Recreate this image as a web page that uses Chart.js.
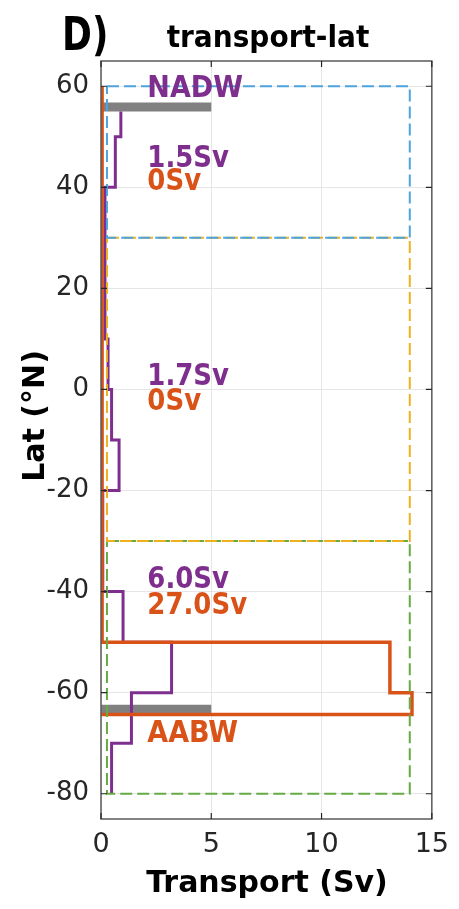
<!DOCTYPE html>
<html>
<head>
<meta charset="utf-8">
<script src="https://cdn.jsdelivr.net/npm/chart.js@4.4.0/dist/chart.umd.min.js"></script>
<style>
    body { margin: 0; background: #fff; }
    #wrap { width: 459px; height: 909px; position: relative; }
</style>
</head>
<body>
<div id="wrap"><canvas id="transportChart"></canvas></div>
<script>
// Tick labels
const xTicks = [0, 5, 10, 15];
const yTicks = [-80, -60, -40, -20, 0, 20, 40, 60];

// Purple profile: latitude edges (top to bottom) and transport in each band (Sv)
const purpleLatEdges = [55, 50, 40, 10, 0, -10, -20, -40, -50, -60, -70, -80];
const purpleValues = [0.9, 0.65, 0.18, 0.32, 0.48, 0.82, 0.08, 1.0, 3.2, 1.38, 0.48];

// Orange profile
const orangeLatEdges = [60, -50, -60, -64.3];
const orangeValues = [0.05, 13.1, 14.1];

// Dashed region boxes (blue, yellow, green)
const boxTops = [60, 30, -30];
const boxBottoms = [30, -30, -80];
const boxLeft = 0.27;
const boxRight = 14;

// Gray bars (NADW / AABW)
const barLats = [55.9, -63.3];
const barLength = 5;

// Labels inside the plot
const labelTexts = ['NADW', '1.5Sv', '0Sv', '1.7Sv', '0Sv', '6.0Sv', '27.0Sv', 'AABW'];
const labelLats = [59.5, 45.5, 41, 2.4, -2.6, -37.7, -42.9, -68.2];

const purple = '#7E2F8E';
const orange = '#D95319';
const boxColors = ['#4DA3DB', '#EDB120', '#66AA44'];
const labelColors = [purple, purple, orange, purple, orange, purple, orange, orange];

function stepPoints(edges, values, closeToZero) {
    const pts = [];
    for (let i = 0; i < values.length; i++) {
        pts.push({ x: values[i], y: edges[i] });
        pts.push({ x: values[i], y: edges[i + 1] });
    }
    if (closeToZero) pts.push({ x: 0, y: edges[edges.length - 1] });
    return pts;
}

const datasets = [];

boxTops.forEach((top, i) => {
    datasets.push({
        data: [
            { x: boxLeft, y: top }, { x: boxRight, y: top },
            { x: boxRight, y: boxBottoms[i] }, { x: boxLeft, y: boxBottoms[i] },
            { x: boxLeft, y: top }
        ],
        borderColor: boxColors[i],
        borderWidth: 2,
        borderDash: [12, 5]
    });
});

datasets.push({
    data: stepPoints(orangeLatEdges, orangeValues, true),
    borderColor: orange,
    borderWidth: 3.5
});

datasets.push({
    data: stepPoints(purpleLatEdges, purpleValues, false),
    borderColor: purple,
    borderWidth: 3
});

barLats.forEach(lat => {
    datasets.push({
        data: [{ x: 0, y: lat }, { x: barLength, y: lat }],
        borderColor: '#808080',
        borderWidth: 9,
        borderCapStyle: 'butt'
    });
});

datasets.forEach(d => {
    d.showLine = true;
    d.pointRadius = 0;
    d.fill = false;
    d.tension = 0;
});

// text drawn slightly taller than wide, as in the source figure
function tallText(ctx, text, x, y, sy) {
    ctx.save();
    ctx.translate(x, y);
    ctx.scale(1, sy);
    ctx.fillText(text, 0, 0);
    ctx.restore();
}

// Draws text, box and inward ticks like the MATLAB figure
const decorPlugin = {
    id: 'decor',
    afterDraw(chart) {
        const ctx = chart.ctx;
        const area = chart.chartArea;
        const xs = chart.scales.x;
        const ys = chart.scales.y;

        ctx.save();
        // in-plot labels
        ctx.textBaseline = 'middle';
        ctx.textAlign = 'left';
        labelTexts.forEach((t, i) => {
            ctx.font = (t === 'NADW' || t === 'AABW') ? 'bold 27px "DejaVu Sans"' : 'bold 26px "DejaVu Sans"';
            ctx.fillStyle = labelColors[i];
            tallText(ctx, t, xs.getPixelForValue(2.1), ys.getPixelForValue(labelLats[i]), 1.13);
        });

        // box
        ctx.strokeStyle = '#5a5a5a';
        ctx.lineWidth = 1.5;
        ctx.strokeRect(area.left, area.top, area.right - area.left, area.bottom - area.top);

        // inward ticks
        ctx.strokeStyle = '#262626';
        ctx.lineWidth = 1.2;
        ctx.beginPath();
        xTicks.forEach(v => {
            const px = xs.getPixelForValue(v);
            ctx.moveTo(px, area.bottom); ctx.lineTo(px, area.bottom - 6);
            ctx.moveTo(px, area.top); ctx.lineTo(px, area.top + 6);
        });
        yTicks.forEach(v => {
            const py = ys.getPixelForValue(v);
            ctx.moveTo(area.left, py); ctx.lineTo(area.left + 6, py);
            ctx.moveTo(area.right, py); ctx.lineTo(area.right - 6, py);
        });
        ctx.stroke();

        // titles
        ctx.fillStyle = '#000';
        ctx.textAlign = 'center';
        ctx.textBaseline = 'alphabetic';
        ctx.font = 'bold 28px "DejaVu Sans"';
        tallText(ctx, 'transport-lat', 268, 47, 1.08);

        ctx.font = 'bold 30px "DejaVu Sans"';
        ctx.fillText('Transport (Sv)', 267, 892);

        ctx.save();
        ctx.translate(44, 416);
        ctx.rotate(-Math.PI / 2);
        ctx.fillText('Lat (\u00B0N)', 0, 0);
        ctx.restore();

        ctx.textAlign = 'left';
        ctx.font = 'bold 36px "DejaVu Sans"';
        tallText(ctx, 'D)', 62, 50, 1.3);

        ctx.restore();
    }
};

const ctx = document.getElementById('transportChart').getContext('2d');
new Chart(ctx, {
    type: 'scatter',
    data: { datasets: datasets },
    options: {
        responsive: true,
        maintainAspectRatio: false,
        animation: false,
        layout: { padding: { left: 0, right: 25, top: 61, bottom: 0 } },
        plugins: {
            legend: { display: false },
            tooltip: { enabled: false }
        },
        scales: {
            x: {
                type: 'linear',
                min: 0,
                max: 15,
                afterBuildTicks: s => { s.ticks = xTicks.map(v => ({ value: v })); },
                afterFit: s => { s.height = 90; },
                grid: { color: '#e6e6e6', drawTicks: false },
                border: { display: false },
                ticks: { color: '#262626', font: { family: 'DejaVu Sans', size: 27 }, padding: 10 }
            },
            y: {
                type: 'linear',
                min: -85,
                max: 65,
                afterBuildTicks: s => { s.ticks = yTicks.map(v => ({ value: v })); },
                afterFit: s => { s.width = 101; },
                grid: { color: '#e6e6e6', drawTicks: false },
                border: { display: false },
                ticks: { color: '#262626', font: { family: 'DejaVu Sans', size: 26 }, padding: 12 }
            }
        }
    },
    plugins: [decorPlugin]
});
</script>
</body>
</html>
